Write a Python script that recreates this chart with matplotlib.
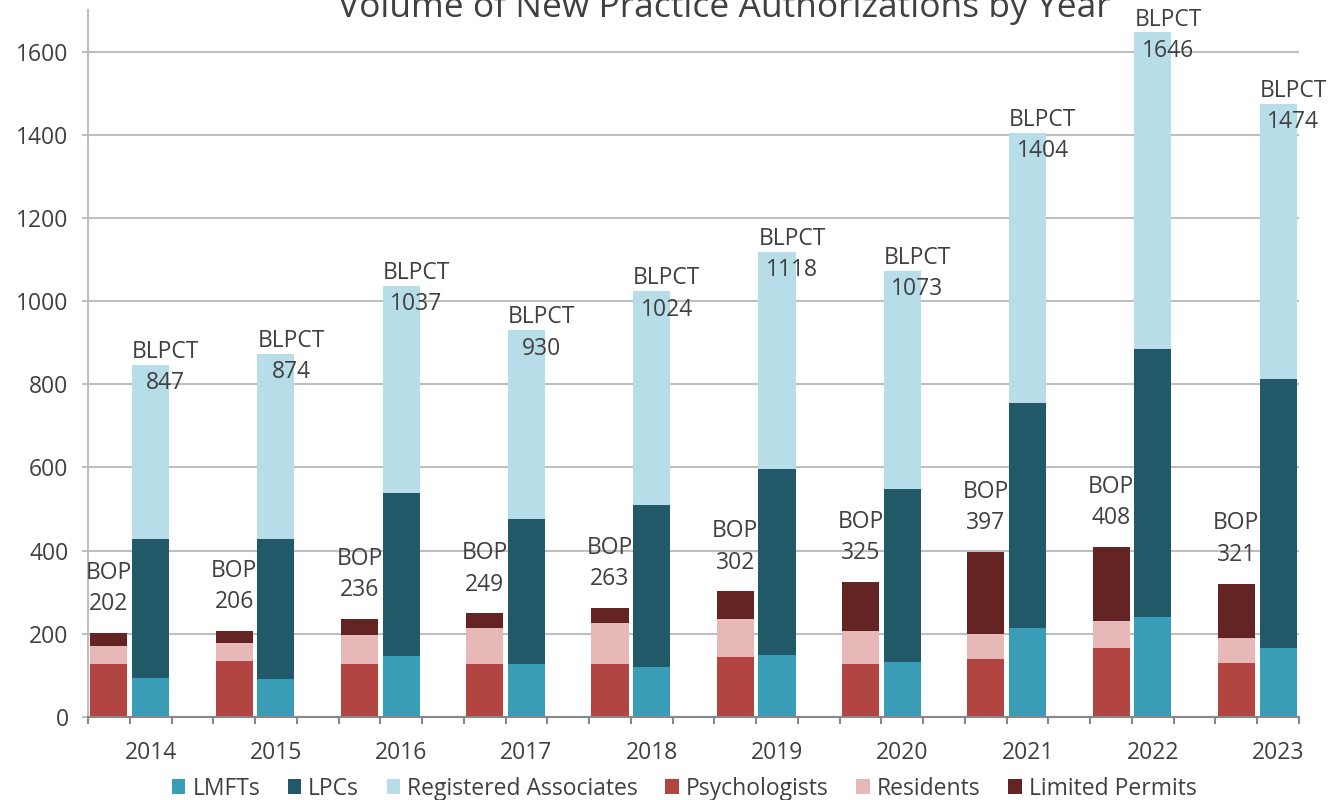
import matplotlib.pyplot as plt
import numpy as np

plt.rcParams['font.family'] = ['Open Sans', 'DejaVu Sans']

# data
years = [2014, 2015, 2016, 2017, 2018, 2019, 2020, 2021, 2022, 2023]

# BLPCT stack
lmfts = [93, 91, 147, 127, 121, 150, 133, 215, 240, 165]
lpcs = [336, 336, 392, 350, 388, 446, 415, 541, 644, 647]
reg_assoc = [418, 447, 498, 453, 515, 522, 525, 648, 762, 662]

# BOP stack
psychologists = [127, 135, 127, 127, 127, 144, 127, 139, 165, 129]
residents = [44, 42, 70, 88, 98, 92, 80, 61, 66, 60]
limited_permits = [31, 29, 39, 34, 38, 66, 118, 197, 177, 132]

text_col = '#404040'
grid_col = '#BFBFBF'
fs = 16.5

fig = plt.figure(figsize=(13.36, 8), dpi=100)
ax = fig.add_axes([88 / 1336, 1 - 717 / 800, (1299 - 88) / 1336, (717 - 10) / 800])

n = len(years)
x_bop = np.arange(n) * 3
x_blp = x_bop + 1
w = 0.89

blp_series = [(lmfts, '#3A9DB8', 'LMFTs'),
              (lpcs, '#215968', 'LPCs'),
              (reg_assoc, '#B7DDE8', 'Registered Associates')]
bop_series = [(psychologists, '#B24442', 'Psychologists'),
              (residents, '#E6B8B7', 'Residents'),
              (limited_permits, '#632423', 'Limited Permits')]

handles = []
bottom = np.zeros(n)
for vals, col, lab in blp_series:
    b = ax.bar(x_blp, vals, w, bottom=bottom, color=col, label=lab, zorder=3)
    handles.append(b)
    bottom += np.array(vals)
blp_tot = bottom.copy()

bottom = np.zeros(n)
for vals, col, lab in bop_series:
    b = ax.bar(x_bop, vals, w, bottom=bottom, color=col, label=lab, zorder=3)
    handles.append(b)
    bottom += np.array(vals)
bop_tot = bottom.copy()

# data labels
for i in range(n):
    ax.annotate(f"BLPCT\n{int(blp_tot[i])}", (x_blp[i] - w / 2, blp_tot[i]),
                xytext=(0, -2), textcoords='offset points',
                ha='left', va='center', multialignment='center',
                fontsize=fs, color=text_col, linespacing=1.4, zorder=4)
    ax.annotate(f"BOP\n{int(bop_tot[i])}", (x_bop[i], bop_tot[i]),
                xytext=(0, 32), textcoords='offset points',
                ha='center', va='center', multialignment='center',
                fontsize=fs, color=text_col, linespacing=1.4, zorder=4)

ax.set_xlim(-0.5, 3 * n - 1.5)
ax.set_ylim(0, 1700)
ax.set_yticks(np.arange(0, 1601, 200))
ax.yaxis.grid(True, color=grid_col, linewidth=1.5, zorder=0)
ax.set_axisbelow(True)

ax.set_xticks(x_blp)
ax.set_xticklabels([str(y) for y in years])
ax.set_xticks(np.arange(-0.5, 3 * n - 1, 1), minor=True)
ax.tick_params(axis='x', which='major', length=0, pad=17, labelsize=fs, colors=text_col)
ax.tick_params(axis='x', which='minor', length=5, width=1.5, color='#888888')
ax.tick_params(axis='y', length=4, width=1.5, color=grid_col, pad=10, labelsize=fs, labelcolor=text_col)

for s in ['top', 'right']:
    ax.spines[s].set_visible(False)
ax.spines['left'].set_color(grid_col)
ax.spines['left'].set_linewidth(1.5)
ax.spines['bottom'].set_color('#888888')
ax.spines['bottom'].set_linewidth(1.5)
ax.spines['bottom'].set_zorder(5)

fig.text(0.542, 1 - 17 / 800, "Volume of New Practice Authorizations by Year",
         ha='center', va='baseline', fontsize=25.5, color=text_col)

fig.legend(handles=handles, loc='center', bbox_to_anchor=(0.512, 0.014), ncol=6,
           frameon=False, fontsize=fs, handlelength=0.6, handleheight=0.6,
           handletextpad=0.3, columnspacing=1.2, labelcolor=text_col)

fig.savefig('out.png', dpi=100)
